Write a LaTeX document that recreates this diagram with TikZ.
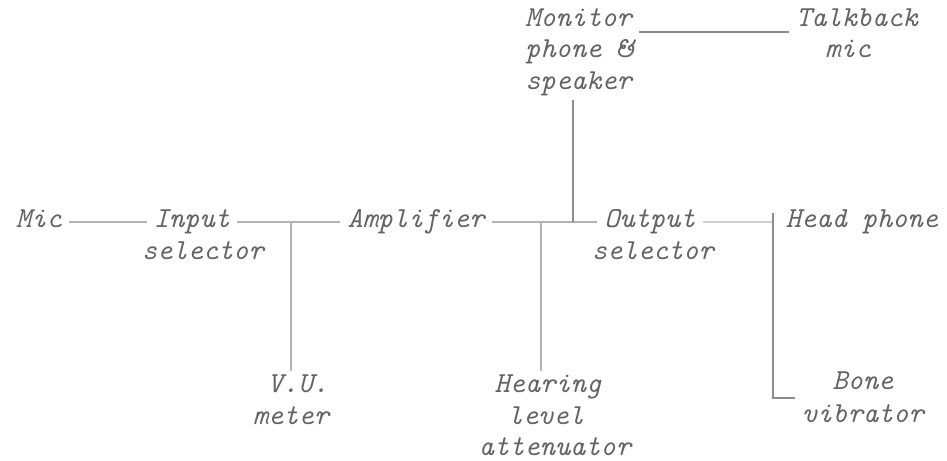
\documentclass[tikz,border=0pt]{standalone}
\usepackage{fontspec}
\usepackage{xcolor}
\definecolor{ink}{RGB}{100,100,100}
\definecolor{linegray}{RGB}{180,180,180}
\definecolor{monline}{RGB}{140,140,140}
\usetikzlibrary{calc}
\tikzset{
  lbl/.style={font=\ttfamily\itshape\fontsize{16.5}{19}\selectfont, text=ink,
              anchor=base, inner xsep=4pt, inner ysep=2pt},
  lblw/.style={lbl, anchor=base west},
  conn/.style={draw=#1, line width=0.6pt},
  conn/.default=linegray,
}

\begin{document}
\begin{tikzpicture}
  \useasboundingbox (0,0) rectangle (18.94,9.22);
  % Signal chain
  \node[lbl] (mic) at (0.78,4.66) {Mic};
  \node[lbl] (input) at (3.84,4.66) {Input};
  \node[lbl] (inputb) at (4.06,4.02) {selector};
  \node[lbl] (amp) at (8.32,4.66) {Amplifier};
  \node[lbl] (output) at (13.0,4.66) {Output};
  \node[lbl] (outputb) at (13.06,4.02) {selector};
  \node[lbl] (head) at (17.24,4.66) {Head phone};
  % Lower row
  \node[lbl] (vu) at (5.96,1.36) {V.U.};
  \node[lbl] (vub) at (5.82,0.72) {meter};
  \node[lbl] (hear) at (10.96,1.36) {Hearing};
  \node[lbl] (hearb) at (10.92,0.72) {level};
  \node[lbl] (hearc) at (11.1,0.10) {attenuator};
  \node[lbl] (bone) at (17.26,1.42) {Bone};
  \node[lbl] (boneb) at (17.26,0.76) {vibrator};
  % Top row
  \node[lblw] (mon) at (10.36,8.68) {Monitor};
  \node[lblw] (monb) at (10.36,8.06) {phone \&};
  \node[lblw] (monc) at (10.36,7.42) {speaker};
  \node[lbl] (talk) at (17.14,8.68) {Talkback};
  \node[lbl] (talkb) at (16.96,8.06) {mic};

  % Junctions
  \coordinate (vuj) at (5.82,4.78);
  \coordinate (hearj) at (10.82,4.78);
  \coordinate (monj) at (11.46,4.78);
  \coordinate (headj) at (15.46,4.78);

  % Connectors
  \draw[conn] ([yshift=0.12cm]mic.base east) -- ([yshift=0.12cm]input.base west);
  \draw[conn] ([yshift=0.12cm]input.base east) -- ([yshift=0.12cm]amp.base west);
  \draw[conn] (vuj) -- (vuj |- vu.north);
  \draw[conn] ([yshift=0.12cm]amp.base east) -- ([yshift=0.12cm]output.base west);
  \draw[conn] (hearj) -- (hearj |- hear.north);
  \draw[conn=monline] (monj |- monc.south) -- (monj);
  \draw[conn] ([yshift=0.12cm]output.base east) -- (headj);
  \draw[conn=monline] ([yshift=0.3cm]head.base -| headj) -- ([yshift=-0.16cm]bone.base -| headj)
    -- ([yshift=-0.16cm]bone.base -| boneb.west);
  \draw[conn=monline] ([yshift=-0.1cm]mon.base east) -- ([yshift=-0.1cm]talk.base west);
\end{tikzpicture}
\end{document}
